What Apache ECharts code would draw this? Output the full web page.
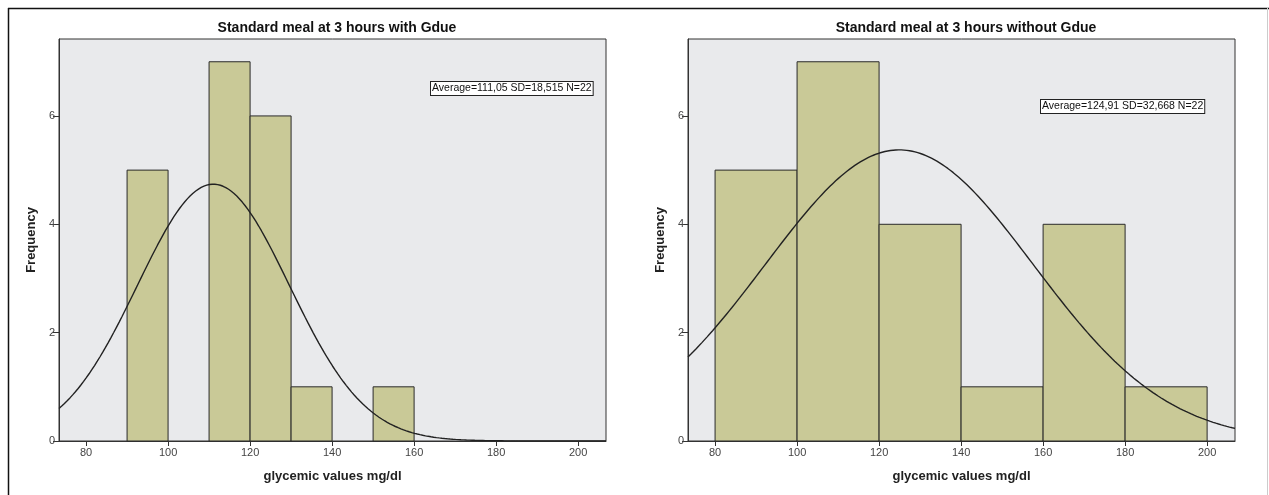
<!DOCTYPE html>
<html>
<head>
<meta charset="utf-8">
<script src="https://cdn.jsdelivr.net/npm/echarts@6/dist/echarts.min.js"></script>
<style>html,body{margin:0;padding:0;background:#fff}#c{width:1269px;height:495px}</style>
</head>
<body>
<div id="c"></div>
<script>
// ---- data ----
const titles = ['Standard meal at 3 hours with Gdue', 'Standard meal at 3 hours without Gdue'];
const xTicks = [80, 100, 120, 140, 160, 180, 200];
const yTicks = [0, 2, 4, 6];
// histogram bins: [start, end, count]
const binsLeft = [[90,100,5],[110,120,7],[120,130,6],[130,140,1],[150,160,1]];
const binsRight = [[80,100,5],[100,120,7],[120,140,4],[140,160,1],[160,180,4],[180,200,1]];
// summary statistics shown on the chart
const statsLeft = {mean: 111.05, sd: 18.515, n: 22, binWidth: 10};
const statsRight = {mean: 124.91, sd: 32.668, n: 22, binWidth: 20};
const statLabels = ['Average=111,05 SD=18,515 N=22', 'Average=124,91 SD=32,668 N=22'];
const xMin = 73.4, xMax = 206.8, yMax = 7.42;

function normalCurve(s) {
  const pts = [];
  for (let i = 0; i <= 200; i++) {
    const x = xMin + (xMax - xMin) * i / 200;
    const z = (x - s.mean) / s.sd;
    pts.push([x, s.n * s.binWidth * Math.exp(-0.5 * z * z) / (s.sd * Math.sqrt(2 * Math.PI))]);
  }
  return pts;
}

const chart = echarts.init(document.getElementById('c'), null, {renderer: 'canvas'});
const font = 'Liberation Sans, Arial, sans-serif';
const grids = [
  {left: 59, right: 663, top: 39, bottom: 54},
  {left: 688, right: 34, top: 39, bottom: 54}
];
function xAxis(i) {
  return {
    type: 'value', gridIndex: i, min: xMin, max: xMax,
    name: 'glycemic values mg/dl', nameLocation: 'middle', nameGap: 29,
    nameTextStyle: {fontFamily: font, fontSize: 13, fontWeight: 'bold', color: '#222'},
    axisLine: {show: true, lineStyle: {color: '#333', width: 1}},
    axisTick: {show: true, length: 5, customValues: xTicks, lineStyle: {color: '#333', width: 1}},
    axisLabel: {customValues: xTicks, fontFamily: font, fontSize: 11, color: '#444', margin: 6},
    splitLine: {show: false}
  };
}
function yAxis(i) {
  return {
    type: 'value', gridIndex: i, min: 0, max: yMax,
    name: 'Frequency', nameLocation: 'middle', nameGap: 21,
    nameTextStyle: {fontFamily: font, fontSize: 13, fontWeight: 'bold', color: '#222'},
    axisLine: {show: true, lineStyle: {color: '#333', width: 1}},
    axisTick: {show: true, length: 6, customValues: yTicks, lineStyle: {color: '#333', width: 1}},
    axisLabel: {customValues: yTicks, fontFamily: font, fontSize: 11, color: '#444', margin: 4},
    splitLine: {show: false}
  };
}
function histSeries(i, bins) {
  return {
    type: 'custom', xAxisIndex: i, yAxisIndex: i, data: bins,
    renderItem: function (params, api) {
      const p0 = api.coord([api.value(0), api.value(2)]);
      const p1 = api.coord([api.value(1), 0]);
      return {
        type: 'rect',
        shape: {x: p0[0], y: p0[1], width: p1[0] - p0[0], height: p1[1] - p0[1]},
        style: {fill: '#c9c997', stroke: '#2a2a2a', lineWidth: 1}
      };
    },
    silent: true, z: 2
  };
}
function curveSeries(i, s) {
  return {
    type: 'line', xAxisIndex: i, yAxisIndex: i, data: normalCurve(s),
    showSymbol: false, symbol: 'none', smooth: false,
    lineStyle: {color: '#222', width: 1.4}, silent: true, z: 3
  };
}

chart.setOption({
  animation: false,
  backgroundColor: '#fff',
  title: [
    {text: titles[0], left: 332, top: 16, textAlign: 'center',
     textStyle: {fontFamily: font, fontSize: 14, fontWeight: 'bold', color: '#111'}},
    {text: titles[1], left: 961, top: 16, textAlign: 'center',
     textStyle: {fontFamily: font, fontSize: 14, fontWeight: 'bold', color: '#111'}}
  ],
  grid: grids.map(g => Object.assign({show: true, backgroundColor: '#e9eaec', borderColor: '#333', borderWidth: 1}, g)),
  xAxis: [xAxis(0), xAxis(1)],
  yAxis: [yAxis(0), yAxis(1)],
  series: [histSeries(0, binsLeft), curveSeries(0, statsLeft), histSeries(1, binsRight), curveSeries(1, statsRight)],
  graphic: [
    {type: 'line', shape: {x1: 8, y1: 8.5, x2: 1269, y2: 8.5}, style: {stroke: '#111', lineWidth: 1.5}},
    {type: 'line', shape: {x1: 8.5, y1: 8, x2: 8.5, y2: 495}, style: {stroke: '#111', lineWidth: 1.5}},
    {type: 'line', shape: {x1: 1267.5, y1: 8, x2: 1267.5, y2: 495}, style: {stroke: '#ccc', lineWidth: 1}},
    {type: 'text', left: 430, top: 81, z: 10,
     style: {text: statLabels[0], font: '10.5px ' + font, fill: '#111', backgroundColor: '#fff',
             borderColor: '#222', borderWidth: 1, padding: [1, 1, 1, 1]}},
    {type: 'text', left: 1040, top: 99, z: 10,
     style: {text: statLabels[1], font: '10.5px ' + font, fill: '#111', backgroundColor: '#fff',
             borderColor: '#222', borderWidth: 1, padding: [1, 1, 1, 1]}}
  ]
});
</script>
</body>
</html>
